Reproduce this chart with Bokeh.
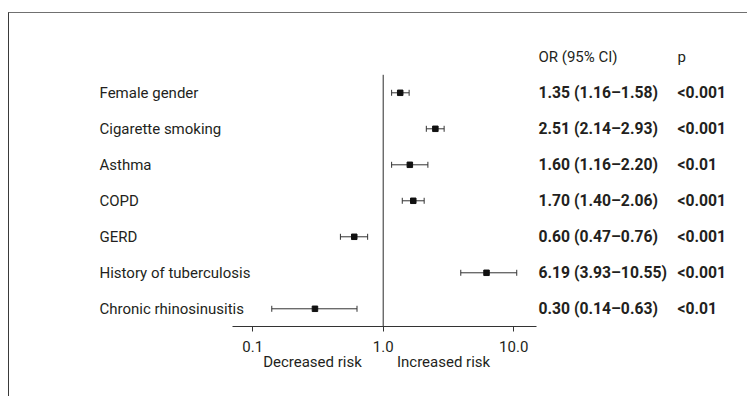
from bokeh.plotting import figure
from bokeh.models import (Range1d, LinearScale, FixedTicker, LogAxis, PrintfTickFormatter,
                          ColumnDataSource, Whisker, TeeHead)
from bokeh.core.properties import value
from bokeh.embed import file_html
from bokeh.resources import INLINE

# ---- data ----
labels = ["Female gender", "Cigarette smoking", "Asthma", "COPD", "GERD",
          "History of tuberculosis", "Chronic rhinosinusitis"]
or_vals = [1.35, 2.51, 1.60, 1.70, 0.60, 6.19, 0.30]
ci_lo = [1.16, 2.14, 1.16, 1.40, 0.47, 3.93, 0.14]
ci_hi = [1.58, 2.93, 2.20, 2.06, 0.76, 10.55, 0.63]
p_vals = ["<0.001", "<0.001", "<0.01", "<0.001", "<0.001", "<0.001", "<0.01"]
header = ["OR (95% CI)", "p"]
tick_vals = [0.1, 1.0, 10.0]
side_labels = ["Decreased risk", "Increased risk"]
ref_or = 1.0

# ---- layout constants ----
W, H = 739, 384
FONT = "Roboto"
TXT = "#231f20"
rows = list(range(len(labels)))
or_text = [f"{o:.2f} ({l:.2f}\u2013{h:.2f})" for o, l, h in zip(or_vals, ci_lo, ci_hi)]

src = ColumnDataSource(dict(y=rows, lab=labels, orv=or_vals, lo=ci_lo, hi=ci_hi,
                            ort=or_text, pv=p_vals))

p = figure(width=W, height=H, x_axis_type="log",
           x_range=Range1d(0.001369, 629.8), y_range=Range1d(6.492, -2.203),
           output_backend="svg", toolbar_location=None,
           min_border_left=0, min_border_right=0, min_border_top=0, min_border_bottom=71,
           y_axis_location=None, outline_line_color=None, background_fill_color="white")
p.grid.visible = False
p.extra_x_ranges = {"px": Range1d(0, W)}
p.extra_x_scales = {"px": LinearScale()}
p.styles = {"border-top": "1.5px solid #707070", "border-left": "1px solid #3a3a3a",
            "margin-top": "12px", "margin-left": "8px"}

# reference line at OR = 1
p.segment(x0=[ref_or], x1=[ref_or], y0=[-0.5], y1=[6.492], line_color="#2a2a2a", line_width=1)

# CI whiskers
wk = Whisker(source=src, base="y", lower="lo", upper="hi", dimension="width",
             line_color="#333333", line_width=1,
             lower_head=TeeHead(size=6, line_color="#333333", line_width=1),
             upper_head=TeeHead(size=6, line_color="#333333", line_width=1))
p.add_layout(wk)
p.scatter("orv", "y", source=src, marker="square", size=5.5, color="#111111")

# row labels
p.text(x=90, y="y", text="lab", source=src, x_range_name="px", text_align="left",
       text_baseline="middle", text_font=value(FONT), text_font_size="15px", text_color=TXT)
# values
p.text(x=529, y="y", text="ort", source=src, x_range_name="px", text_align="left",
       text_baseline="middle", text_font=value(FONT), text_font_size="15.7px",
       text_font_style="bold", text_color=TXT)
p.text(x=668, y="y", text="pv", source=src, x_range_name="px", text_align="left",
       text_baseline="middle", text_font=value(FONT), text_font_size="15.7px",
       text_font_style="bold", text_color=TXT)
# headers
p.text(x=[529, 668], y=[-1, -1], text=header, x_range_name="px", text_align="left",
       text_baseline="middle", text_font=value(FONT), text_font_size="15px", text_color=TXT)

# main x axis
ax = p.xaxis[0]
ax.ticker = FixedTicker(ticks=tick_vals)
ax.formatter = PrintfTickFormatter(format="%.1f")
ax.bounds = (0.07, 15.0)
ax.axis_line_color = "#333333"
ax.major_tick_line_color = "#333333"
ax.major_tick_out = 5
ax.major_tick_in = 0
ax.minor_tick_line_color = None
ax.major_label_standoff = 9
ax.major_label_text_font = FONT
ax.major_label_text_font_size = "15px"
ax.major_label_text_color = TXT

# risk direction labels as a second axis
side_ticks = [0.287, 2.9]
ax2 = LogAxis(ticker=FixedTicker(ticks=side_ticks),
              major_label_overrides={side_ticks[0]: side_labels[0], side_ticks[1]: side_labels[1]},
              axis_line_color=None, major_tick_line_color=None, minor_tick_line_color=None,
              major_label_standoff=-8, major_label_text_font=FONT,
              major_label_text_font_size="15px", major_label_text_color=TXT)
p.add_layout(ax2, "below")

open("out.html", "w").write(file_html(p, INLINE))
